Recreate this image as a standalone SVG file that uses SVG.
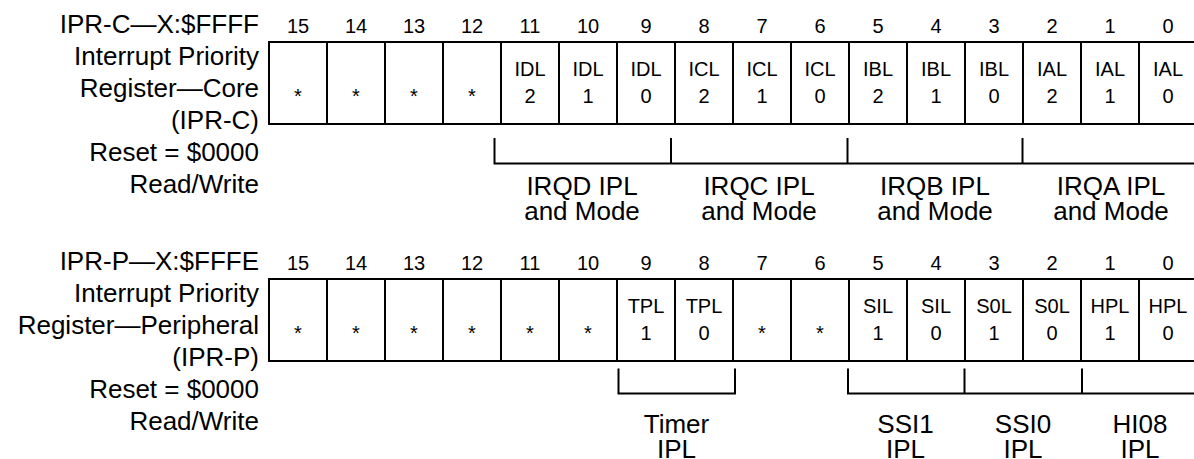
<svg xmlns="http://www.w3.org/2000/svg" width="1194" height="459" viewBox="0 0 1194 459">
<style>
text{font-family:"Liberation Sans",Arial,sans-serif;fill:#000}
.lbl{font-size:26px;text-anchor:end}
.num{font-size:20px;text-anchor:middle}
.cell text{font-size:20px;text-anchor:middle}
.cell rect{fill:#fff;stroke:#000;stroke-width:2}
.br{fill:none;stroke:#000;stroke-width:2}
.blab{font-size:26px;text-anchor:middle}
</style>
<rect width="1194" height="459" fill="#fff"/>

<g id="label-iprc">
<text class="lbl" x="259" y="33">IPR-C—X:$FFFF</text>
<text class="lbl" x="259" y="65">Interrupt Priority</text>
<text class="lbl" x="259" y="97">Register—Core</text>
<text class="lbl" x="259" y="129">(IPR-C)</text>
<text class="lbl" x="259" y="161">Reset = $0000</text>
<text class="lbl" x="259" y="193">Read/Write</text>
</g>

<g id="bits-iprc">
<text class="num" x="298" y="33">15</text><text class="num" x="356" y="33">14</text><text class="num" x="414" y="33">13</text><text class="num" x="472" y="33">12</text>
<text class="num" x="530" y="33">11</text><text class="num" x="588" y="33">10</text><text class="num" x="646" y="33">9</text><text class="num" x="704" y="33">8</text>
<text class="num" x="762" y="33">7</text><text class="num" x="820" y="33">6</text><text class="num" x="878" y="33">5</text><text class="num" x="936" y="33">4</text>
<text class="num" x="994" y="33">3</text><text class="num" x="1052" y="33">2</text><text class="num" x="1110" y="33">1</text><text class="num" x="1168" y="33">0</text>
</g>

<g id="reg-iprc">
<g id="c15" class="cell"><rect x="269" y="42" width="58" height="82"/><text x="298" y="103">*</text></g>
<g id="c14" class="cell"><rect x="327" y="42" width="58" height="82"/><text x="356" y="103">*</text></g>
<g id="c13" class="cell"><rect x="385" y="42" width="58" height="82"/><text x="414" y="103">*</text></g>
<g id="c12" class="cell"><rect x="443" y="42" width="58" height="82"/><text x="472" y="103">*</text></g>
<g id="c11" class="cell"><rect x="501" y="42" width="58" height="82"/><text x="530" y="76">IDL</text><text x="530" y="103">2</text></g>
<g id="c10" class="cell"><rect x="559" y="42" width="58" height="82"/><text x="588" y="76">IDL</text><text x="588" y="103">1</text></g>
<g id="c9" class="cell"><rect x="617" y="42" width="58" height="82"/><text x="646" y="76">IDL</text><text x="646" y="103">0</text></g>
<g id="c8" class="cell"><rect x="675" y="42" width="58" height="82"/><text x="704" y="76">ICL</text><text x="704" y="103">2</text></g>
<g id="c7" class="cell"><rect x="733" y="42" width="58" height="82"/><text x="762" y="76">ICL</text><text x="762" y="103">1</text></g>
<g id="c6" class="cell"><rect x="791" y="42" width="58" height="82"/><text x="820" y="76">ICL</text><text x="820" y="103">0</text></g>
<g id="c5" class="cell"><rect x="849" y="42" width="58" height="82"/><text x="878" y="76">IBL</text><text x="878" y="103">2</text></g>
<g id="c4" class="cell"><rect x="907" y="42" width="58" height="82"/><text x="936" y="76">IBL</text><text x="936" y="103">1</text></g>
<g id="c3" class="cell"><rect x="965" y="42" width="58" height="82"/><text x="994" y="76">IBL</text><text x="994" y="103">0</text></g>
<g id="c2" class="cell"><rect x="1023" y="42" width="58" height="82"/><text x="1052" y="76">IAL</text><text x="1052" y="103">2</text></g>
<g id="c1" class="cell"><rect x="1081" y="42" width="58" height="82"/><text x="1110" y="76">IAL</text><text x="1110" y="103">1</text></g>
<g id="c0" class="cell"><rect x="1139" y="42" width="58" height="82"/><text x="1168" y="76">IAL</text><text x="1168" y="103">0</text></g>
</g>

<g id="grp-irqd"><text class="blab" x="582" y="195">IRQD IPL</text><text class="blab" x="582" y="220">and Mode</text></g>
<g id="grp-irqc"><text class="blab" x="759" y="195">IRQC IPL</text><text class="blab" x="759" y="220">and Mode</text></g>
<g id="grp-irqb"><text class="blab" x="935" y="195">IRQB IPL</text><text class="blab" x="935" y="220">and Mode</text></g>
<g id="grp-irqa"><text class="blab" x="1111" y="195">IRQA IPL</text><text class="blab" x="1111" y="220">and Mode</text></g>

<g id="label-iprp">
<text class="lbl" x="259" y="270">IPR-P—X:$FFFE</text>
<text class="lbl" x="259" y="302">Interrupt Priority</text>
<text class="lbl" x="259" y="334">Register—Peripheral</text>
<text class="lbl" x="259" y="366">(IPR-P)</text>
<text class="lbl" x="259" y="398">Reset = $0000</text>
<text class="lbl" x="259" y="430">Read/Write</text>
</g>

<g id="bits-iprp">
<text class="num" x="298" y="270">15</text><text class="num" x="356" y="270">14</text><text class="num" x="414" y="270">13</text><text class="num" x="472" y="270">12</text>
<text class="num" x="530" y="270">11</text><text class="num" x="588" y="270">10</text><text class="num" x="646" y="270">9</text><text class="num" x="704" y="270">8</text>
<text class="num" x="762" y="270">7</text><text class="num" x="820" y="270">6</text><text class="num" x="878" y="270">5</text><text class="num" x="936" y="270">4</text>
<text class="num" x="994" y="270">3</text><text class="num" x="1052" y="270">2</text><text class="num" x="1110" y="270">1</text><text class="num" x="1168" y="270">0</text>
</g>

<g id="reg-iprp">
<g id="p15" class="cell"><rect x="269" y="279" width="58" height="82"/><text x="298" y="340">*</text></g>
<g id="p14" class="cell"><rect x="327" y="279" width="58" height="82"/><text x="356" y="340">*</text></g>
<g id="p13" class="cell"><rect x="385" y="279" width="58" height="82"/><text x="414" y="340">*</text></g>
<g id="p12" class="cell"><rect x="443" y="279" width="58" height="82"/><text x="472" y="340">*</text></g>
<g id="p11" class="cell"><rect x="501" y="279" width="58" height="82"/><text x="530" y="340">*</text></g>
<g id="p10" class="cell"><rect x="559" y="279" width="58" height="82"/><text x="588" y="340">*</text></g>
<g id="p9" class="cell"><rect x="617" y="279" width="58" height="82"/><text x="646" y="313">TPL</text><text x="646" y="340">1</text></g>
<g id="p8" class="cell"><rect x="675" y="279" width="58" height="82"/><text x="704" y="313">TPL</text><text x="704" y="340">0</text></g>
<g id="p7" class="cell"><rect x="733" y="279" width="58" height="82"/><text x="762" y="340">*</text></g>
<g id="p6" class="cell"><rect x="791" y="279" width="58" height="82"/><text x="820" y="340">*</text></g>
<g id="p5" class="cell"><rect x="849" y="279" width="58" height="82"/><text x="878" y="313">SIL</text><text x="878" y="340">1</text></g>
<g id="p4" class="cell"><rect x="907" y="279" width="58" height="82"/><text x="936" y="313">SIL</text><text x="936" y="340">0</text></g>
<g id="p3" class="cell"><rect x="965" y="279" width="58" height="82"/><text x="994" y="313">S0L</text><text x="994" y="340">1</text></g>
<g id="p2" class="cell"><rect x="1023" y="279" width="58" height="82"/><text x="1052" y="313">S0L</text><text x="1052" y="340">0</text></g>
<g id="p1" class="cell"><rect x="1081" y="279" width="58" height="82"/><text x="1110" y="313">HPL</text><text x="1110" y="340">1</text></g>
<g id="p0" class="cell"><rect x="1139" y="279" width="58" height="82"/><text x="1168" y="313">HPL</text><text x="1168" y="340">0</text></g>
</g>

<g id="grp-timer"><text class="blab" x="676.5" y="433">Timer</text><text class="blab" x="676.5" y="458">IPL</text></g>
<g id="grp-ssi1"><text class="blab" x="905.5" y="433">SSI1</text><text class="blab" x="905.5" y="458">IPL</text></g>
<g id="grp-ssi0"><text class="blab" x="1023" y="433">SSI0</text><text class="blab" x="1023" y="458">IPL</text></g>
<g id="grp-hi08"><text class="blab" x="1140" y="433">HI08</text><text class="blab" x="1140" y="458">IPL</text></g>

<g id="connectors">
<path class="br" d="M494.5,138 V163.5 H1197 M671,138 V163.5 M847.5,138 V163.5 M1022.5,138 V163.5"/>
<path class="br" d="M618.5,368.5 V393.5 H735 V368.5"/>
<path class="br" d="M848,368.5 V393.5 H1197 M964.5,368.5 V393.5 M1082,368.5 V393.5"/>
</g>
</svg>
